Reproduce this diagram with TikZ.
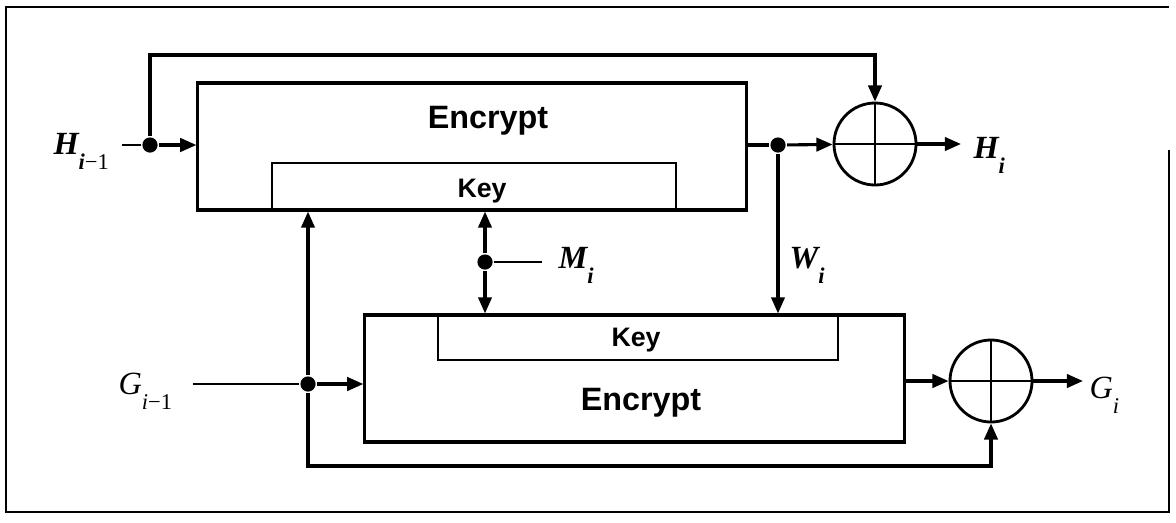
\documentclass[tikz,border=0pt]{standalone}
\usepackage{fontspec}
\setmainfont{Liberation Sans}
\newfontfamily\serlbl{Liberation Serif}
\usetikzlibrary{arrows.meta}
\newcommand{\lblsub}[2]{#1\raisebox{-11pt}{\fontsize{16}{17}\selectfont #2}}
\tikzset{
  arr/.style={-{Triangle[length=11.5pt,width=9.5pt]}},
  blk/.style={draw, line width=2.2pt, inner sep=0pt},
  dot/.style={circle, fill, inner sep=0pt, minimum size=0.38cm},
  xorc/.style={circle, draw, line width=2pt, minimum size=2.05cm, inner sep=0pt,
    path picture={\draw[line width=2pt] (path picture bounding box.north)--(path picture bounding box.south)
      (path picture bounding box.west)--(path picture bounding box.east);}},
  lbl/.style={font=\fontsize{23}{26}\selectfont\serlbl\itshape, inner sep=0pt, anchor=base west},
  enc/.style={font=\fontsize{23}{26}\selectfont\bfseries, inner sep=0pt, anchor=base},
  keytxt/.style={font=\fontsize{19}{22}\selectfont\bfseries, inner sep=0pt, anchor=base}
}

\begin{document}
\begin{tikzpicture}[x=0.025cm, y=-0.025cm, line width=2.2pt]
      \useasboundingbox (0,0) rectangle (1176,522);
      \draw[line width=1.5pt] (1169,150)--(1169,512)--(6,512)--(6,7)--(1169,7);
      \node[blk, minimum width=13.7cm, minimum height=3.175cm](e1) at (472,146.5) {};
      \node[enc](t1) at (488,128) {Encrypt};
      \draw[line width=1.8pt] (272,210)--(272,163)--(676,163)--(676,210);
      \node[keytxt](k1) at (482,197) {Key};
      \node[lbl](hp) at (52,154) {\lblsub{\bfseries H}{\bfseries i\mdseries\upshape−1}};
      \node[dot](hd) at (150,145) {};
      \coordinate (hs) at (122,145);
      \draw[line width=1.6pt] (hs)--(hd);
      \draw[arr] (hd)--(e1.west |- hd);
      \node[xorc](hx) at (875,144) {};
      \draw[arr] (hd)--(150,55)-|(hx);
      \node[dot](wd) at (778,145) {};
      \draw (e1.east |- wd)--(wd);
      \draw[arr] (wd)--(hx);
      \coordinate (ho) at (961,144);
      \draw[arr] (hx)--(ho);
      \node[lbl](hi) at (972,158) {\lblsub{\bfseries H}{\bfseries i}};
      \node[blk, minimum width=13.475cm, minimum height=3.175cm](e2) at (634.5,378.5) {};
      \draw[arr] (wd)--(wd |- e2.north);
      \node[lbl](wi) at (788,268) {\lblsub{\bfseries W}{\bfseries i}};
      \node[dot](md) at (485,262) {};
      \draw[arr] (md)--(md |- e1.south);
      \draw[arr] (md)--(md |- e2.north);
      \coordinate (ms) at (542,262);
      \draw[line width=1.6pt] (md)--(ms);
      \node[lbl](mi) at (557,268) {\lblsub{\bfseries M}{\bfseries i}};
      \draw[line width=1.8pt] (438,315)--(438,360)--(838,360)--(838,315);
      \node[keytxt](k2) at (636,346) {Key};
      \node[enc](t2) at (641,410) {Encrypt};
      \node[lbl](gp) at (117,394) {\lblsub{G}{i\upshape−1}};
      \node[dot](gd) at (308,384) {};
      \coordinate (gs) at (193,384);
      \draw[line width=1.6pt] (gs)--(gd);
      \draw[arr] (gd)--(e2.west |- gd);
      \draw[arr] (gd)--(gd |- e1.south);
      \node[xorc](gx) at (991,381) {};
      \draw[arr] (e2.east |- gx)--(gx);
      \draw[arr] (gd)--(308,466)-|(gx);
      \coordinate (go) at (1083,381);
      \draw[arr] (gx)--(go);
      \node[lbl](gi) at (1088,398) {\lblsub{G}{i}};
\end{tikzpicture}
\end{document}
